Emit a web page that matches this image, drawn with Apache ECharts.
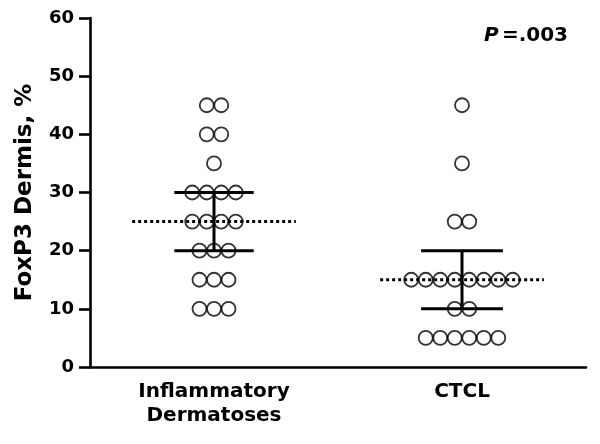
<!DOCTYPE html>
<html><head><meta charset="utf-8">
<script src="https://cdn.jsdelivr.net/npm/echarts@6/dist/echarts.min.js"></script>
<style>html,body{margin:0;padding:0;background:#fff}#c{width:600px;height:444px}</style>
</head><body><div id="c"></div>
<script>
const categories = ['Inflammatory\nDermatoses', 'CTCL'];
const inflammatoryValues = [45,45,40,40,35,30,30,30,30,25,25,25,25,20,20,20,15,15,15,10,10,10];
const ctclValues = [45,35,25,25,15,15,15,15,15,15,15,15,10,10,5,5,5,5,5,5];
const medians = [25, 15];
const q1 = [20, 10];
const q3 = [30, 20];
const yTicks = [0,10,20,30,40,50,60];
const pText = '.003';

const FONT = 'DejaVu Sans, Liberation Sans, Arial, sans-serif';
const groups = [inflammatoryValues, ctclValues];
const SPACING = 0.0585; // horizontal spacing between tied points (x units)
function swarm(vals, center) {
  const counts = {};
  vals.forEach(v => counts[v] = (counts[v] || 0) + 1);
  const seen = {};
  return vals.map(v => {
    const n = counts[v];
    const i = seen[v] = (seen[v] === undefined ? 0 : seen[v] + 1);
    return [center + (i - (n - 1) / 2) * SPACING, v];
  });
}
const scatterData = [];
groups.forEach((g, gi) => swarm(g, gi + 1).forEach(p => scatterData.push(p)));

const series = [{
  type: 'scatter', xAxisIndex: 1, data: scatterData, symbol: 'circle', symbolSize: 14,
  itemStyle: { color: 'rgba(255,255,255,0)', borderColor: '#000', borderWidth: 1.8 },
  z: 2, silent: true
}];
const medHalf = [0.33, 0.33];
const iqrHalf = [0.16, 0.165];
groups.forEach((g, gi) => {
  const c = gi + 1;
  series.push({ type: 'line', xAxisIndex: 1, data: [[c - medHalf[gi], medians[gi]], [c + medHalf[gi], medians[gi]]],
    symbol: 'none', lineStyle: { color: '#000', width: 3, type: [3, 3] }, z: 3, silent: true });
  series.push({ type: 'line', xAxisIndex: 1, data: [[c - iqrHalf[gi], q1[gi]], [c + iqrHalf[gi], q1[gi]]],
    symbol: 'none', lineStyle: { color: '#000', width: 3 }, z: 4, silent: true });
  series.push({ type: 'line', xAxisIndex: 1, data: [[c - iqrHalf[gi], q3[gi]], [c + iqrHalf[gi], q3[gi]]],
    symbol: 'none', lineStyle: { color: '#000', width: 3 }, z: 4, silent: true });
  series.push({ type: 'line', xAxisIndex: 1, data: [[c, q1[gi]], [c, q3[gi]]],
    symbol: 'none', lineStyle: { color: '#000', width: 3 }, z: 4, silent: true });
});

const chart = echarts.init(document.getElementById('c'), null, { renderer: 'canvas' });
chart.setOption({
  animation: false,
  backgroundColor: '#fff',
  grid: { left: 90, top: 18, width: 496, height: 349, containLabel: false },
  xAxis: [{
    type: 'category', data: categories, boundaryGap: true,
    axisLine: { lineStyle: { color: '#000', width: 2.6 } },
    axisTick: { show: false },
    axisLabel: { color: '#000', fontFamily: FONT, fontWeight: 'bold', fontSize: 20, lineHeight: 24, margin: 13 },
    splitLine: { show: false }
  }, {
    type: 'value', min: 0.5, max: 2.5, show: false, splitLine: { show: false }
  }],
  yAxis: {
    type: 'value', min: yTicks[0], max: yTicks[yTicks.length - 1], interval: 10,
    name: 'FoxP3 Dermis, %', nameLocation: 'middle', nameGap: 53, nameRotate: 90,
    nameTextStyle: { color: '#000', fontFamily: FONT, fontWeight: 'bold', fontSize: 23 },
    axisLine: { show: true, lineStyle: { color: '#000', width: 2.6 } },
    axisTick: { show: true, inside: false, length: 11, lineStyle: { color: '#000', width: 2.6 } },
    axisLabel: { color: '#000', fontFamily: FONT, fontWeight: 'bold', fontSize: 18, margin: 16 },
    splitLine: { show: false }
  },
  graphic: [{
    type: 'text', right: 32, top: 26,
    style: {
      text: '{p|P} {v|=' + pText + '}',
      rich: {
        p: { fontFamily: FONT, fontWeight: 'bold', fontStyle: 'italic', fontSize: 20, fill: '#000' },
        v: { fontFamily: FONT, fontWeight: 'bold', fontSize: 20, fill: '#000' }
      }
    }
  }],
  series: series
});
</script></body></html>
